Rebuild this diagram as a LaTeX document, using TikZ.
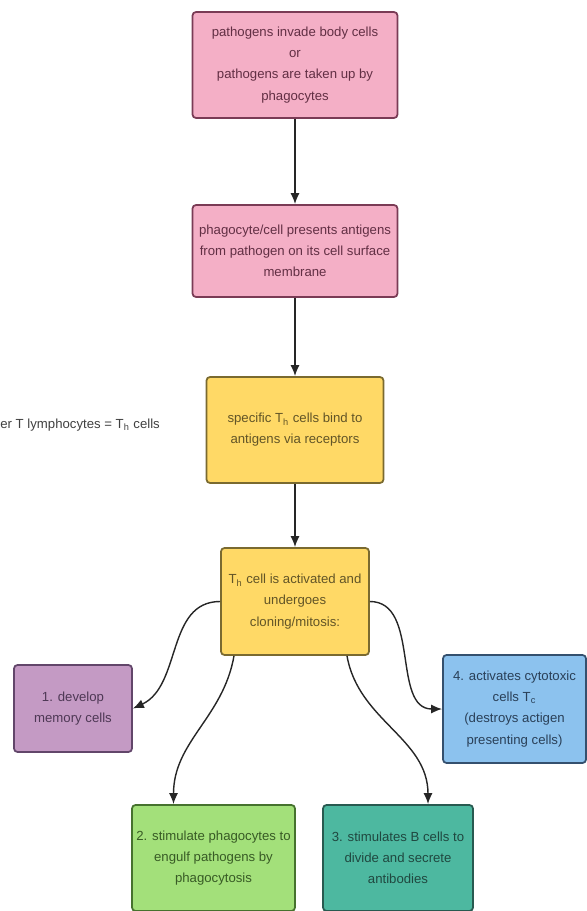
\documentclass[tikz,border=0pt]{standalone}
\usepackage{fontspec}
\setmainfont{Liberation Sans}
\usetikzlibrary{arrows.meta}
\definecolor{pinkfill}{HTML}{F4AFC6}
\definecolor{pinkline}{HTML}{7A3B55}
\definecolor{yellowfill}{HTML}{FFD966}
\definecolor{yellowline}{HTML}{7A6A30}
\definecolor{purplefill}{HTML}{C49AC4}
\definecolor{purpleline}{HTML}{62466A}
\definecolor{bluefill}{HTML}{8CC2EE}
\definecolor{blueline}{HTML}{34506E}
\definecolor{greenfill}{HTML}{A3E07A}
\definecolor{greenline}{HTML}{46722E}
\definecolor{tealfill}{HTML}{4DB8A0}
\definecolor{tealline}{HTML}{285A50}
\tikzset{
  cellbox/.style={shape=rectangle,draw,line width=1pt,rounded corners=2pt,align=center,
    font=\fontsize{7.5}{12}\selectfont,inner sep=2pt},
  pinkbox/.style={cellbox,fill=pinkfill,draw=pinkline,text=pinkline!80!black},
  yellowbox/.style={cellbox,fill=yellowfill,draw=yellowline,text=yellowline!80!black},
  purplebox/.style={cellbox,fill=purplefill,draw=purpleline,text=purpleline!80!black},
  bluebox/.style={cellbox,fill=bluefill,draw=blueline,text=blueline!80!black},
  greenbox/.style={cellbox,fill=greenfill,draw=greenline,text=greenline!80!black},
  tealbox/.style={cellbox,fill=tealfill,draw=tealline,text=tealline!80!black},
  link/.style={-{Latex[length=2.2mm,width=1.8mm]},line width=0.8pt,black!85}
}
\begin{document}
\begin{tikzpicture}
\useasboundingbox (0,0) rectangle (11.72,-18.22);
\node[pinkbox,minimum width=4.1cm,minimum height=2.12cm](P1) at (5.90,-1.30){pathogens invade body cells\\or\\pathogens are taken up by\\phagocytes};
\node[pinkbox,minimum width=4.1cm,minimum height=1.84cm](P2) at (5.90,-5.02){phagocyte/cell presents antigens\\from pathogen on its cell surface\\membrane};
\draw[link] (P1) -- (P2);
\node[yellowbox,minimum width=3.54cm,minimum height=2.12cm](TH) at (5.90,-8.60){specific T\textsubscript{h} cells bind to\\antigens via receptors};
\draw[link] (P2) -- (TH);
\node[anchor=west,inner sep=0pt,font=\fontsize{7.5}{12}\selectfont,text=black!75](note) at (0.0,-8.50){er T lymphocytes = T\textsubscript{h} cells};
\node[yellowbox,minimum width=2.96cm,minimum height=2.14cm](ACT) at (5.90,-12.03){T\textsubscript{h} cell is activated and\\undergoes\\cloning/mitosis:};
\draw[link] (TH) -- (ACT);
% the four outcomes
\node[purplebox,minimum width=2.36cm,minimum height=1.74cm](MEM) at (1.46,-14.17){1. develop\\memory cells};
\node[greenbox,minimum width=3.26cm,minimum height=2.12cm](PHAG) at (4.27,-17.16){2. stimulate phagocytes to\\engulf pathogens by\\phagocytosis};
\node[tealbox,minimum width=3.0cm,minimum height=2.12cm](BCELL) at (7.96,-17.16){3. stimulates B cells to\\divide and secrete\\antibodies};
\node[bluebox,minimum width=2.86cm,minimum height=2.16cm](TC) at (10.29,-14.18){4. activates cytotoxic\\cells T\textsubscript{c}\\(destroys actigen\\presenting cells)};
\draw[link] (ACT.west) to[out=180,in=25] (MEM.east);
\draw[link] ([xshift=-1.22cm]ACT.south) to[out=-100,in=90] ([xshift=-0.8cm]PHAG.north);
\draw[link] ([xshift=1.04cm]ACT.south) to[out=-80,in=90] ([xshift=0.6cm]BCELL.north);
\draw[link] (ACT.east) to[out=0,in=180] (TC.west);
\end{tikzpicture}
\end{document}
